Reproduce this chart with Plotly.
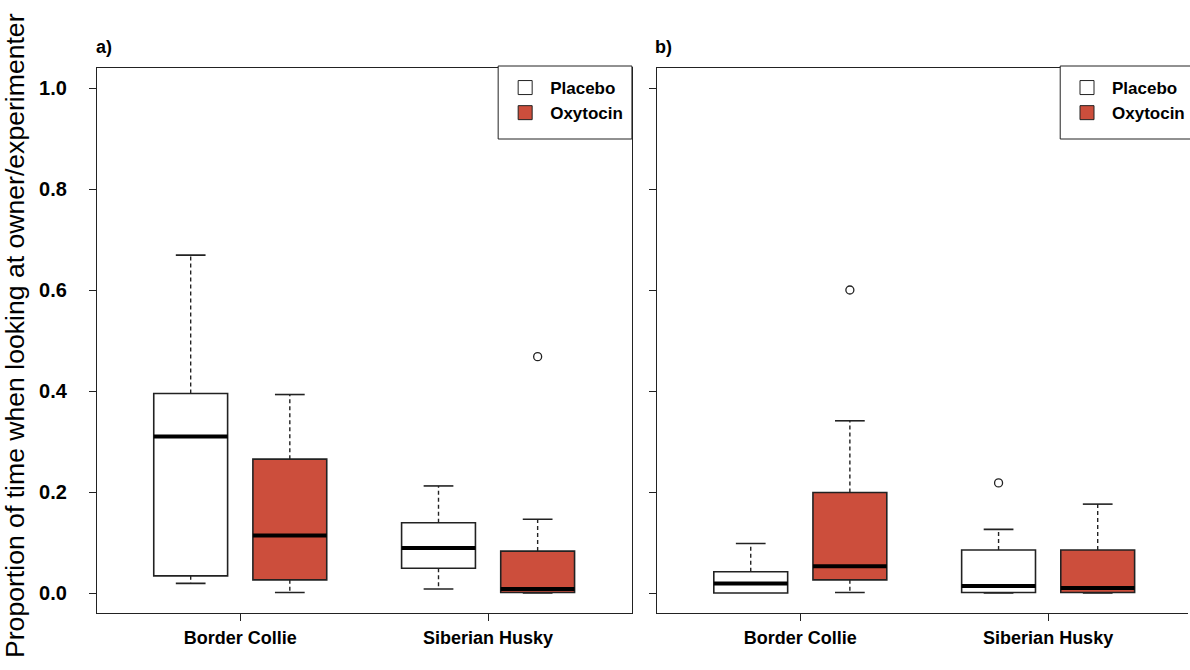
import plotly.graph_objects as go

# ---------------- data ----------------
groups = ["Border Collie", "Siberian Husky"]
treatments = ["Placebo", "Oxytocin"]
box_pos = [1.0, 2.0, 3.5, 4.5]          # BC-Placebo, BC-Oxytocin, SH-Placebo, SH-Oxytocin
group_pos = [1.5, 4.0]
y_ticks = [0.0, 0.2, 0.4, 0.6, 0.8, 1.0]
y_ticktext = ["0.0", "0.2", "0.4", "0.6", "0.8", "1.0"]

# panel a)
a_lower = [0.019, 0.001, 0.008, 0.000]
a_q1 = [0.034, 0.026, 0.049, 0.001]
a_median = [0.310, 0.114, 0.089, 0.008]
a_q3 = [0.395, 0.265, 0.139, 0.083]
a_upper = [0.669, 0.393, 0.212, 0.146]
a_outliers = [[], [], [], [0.468]]

# panel b)
b_lower = [0.000, 0.001, 0.000, 0.000]
b_q1 = [0.000, 0.026, 0.001, 0.001]
b_median = [0.019, 0.053, 0.014, 0.010]
b_q3 = [0.042, 0.199, 0.085, 0.085]
b_upper = [0.098, 0.341, 0.126, 0.176]
b_outliers = [[], [0.600], [0.218], []]

fill_colors = ["#ffffff", "#cc4e3c", "#ffffff", "#cc4e3c"]
treat_colors = {"Placebo": "#ffffff", "Oxytocin": "#cc4e3c"}

# ---------------- geometry ----------------
W, H = 1190, 670
FONT = "Liberation Sans, Arial, sans-serif"
LINE = "#222222"
BOX_W = 0.745
CAP_W = 0.30
PX_PER_UNIT = 99.3
X0 = 1 - 94 / PX_PER_UNIT
xa_dom = [97 / W, 633 / W]
xb_dom = [658 / W, 1.0]
xa_range = [X0, X0 + 536 / PX_PER_UNIT]
xb_range = [X0, X0 + 532 / PX_PER_UNIT]
y_dom = [1 - 613.2 / H, 1 - 67.8 / H]
y_range = [-0.04, 1.04]

fig = go.Figure()


def add_panel(xref, yref, lower, q1, med, q3, upper, outl):
    for i, p in enumerate(box_pos):
        fig.add_trace(go.Box(
            x=[p], q1=[q1[i]], median=[med[i]], q3=[q3[i]],
            lowerfence=[q1[i]], upperfence=[q3[i]],
            width=BOX_W, whiskerwidth=0, fillcolor=fill_colors[i],
            line=dict(color=LINE, width=1.6), boxpoints=False,
            xaxis=xref, yaxis=yref, showlegend=False, hoverinfo="skip"))
    for i, p in enumerate(box_pos):
        # dashed whiskers
        for a, b in ((q3[i], upper[i]), (q1[i], lower[i])):
            if abs(b - a) > 1e-9:
                fig.add_trace(go.Scatter(
                    x=[p, p], y=[a, b], mode="lines",
                    line=dict(color=LINE, width=1.4, dash="4px,3px"),
                    xaxis=xref, yaxis=yref, showlegend=False, hoverinfo="skip"))
        # staples
        for v, ref in ((upper[i], q3[i]), (lower[i], q1[i])):
            if abs(v - ref) > 1e-9:
                fig.add_trace(go.Scatter(
                    x=[p - CAP_W / 2, p + CAP_W / 2], y=[v, v], mode="lines",
                    line=dict(color=LINE, width=1.6),
                    xaxis=xref, yaxis=yref, showlegend=False, hoverinfo="skip"))
        # thick median
        fig.add_trace(go.Scatter(
            x=[p - BOX_W / 2, p + BOX_W / 2], y=[med[i], med[i]], mode="lines",
            line=dict(color="#000000", width=4),
            xaxis=xref, yaxis=yref, showlegend=False, hoverinfo="skip"))
        if outl[i]:
            fig.add_trace(go.Scatter(
                x=[p] * len(outl[i]), y=outl[i], mode="markers",
                marker=dict(symbol="circle-open", size=8, color=LINE,
                            line=dict(width=1.3, color=LINE)),
                xaxis=xref, yaxis=yref, showlegend=False, hoverinfo="skip"))


add_panel("x", "y", a_lower, a_q1, a_median, a_q3, a_upper, a_outliers)
add_panel("x2", "y2", b_lower, b_q1, b_median, b_q3, b_upper, b_outliers)

# legend entries
for lg, xr, yr in (("legend", "x", "y"), ("legend2", "x2", "y2")):
    for t in treatments:
        fig.add_trace(go.Scatter(
            x=[None], y=[None], mode="markers", name=t,
            marker=dict(symbol="square", size=14, color=treat_colors[t],
                        line=dict(color=LINE, width=1)),
            xaxis=xr, yaxis=yr, legend=lg, showlegend=True))

tickfont = dict(family=FONT, size=20, color="#000000", weight="bold")
common_x = dict(tickmode="array", tickvals=group_pos, ticktext=groups,
                ticks="outside", ticklen=7, tickwidth=1, tickcolor=LINE,
                tickfont=dict(family=FONT, size=18, color="#000000", weight="bold"),
                showline=True, linecolor=LINE, linewidth=1, mirror=True,
                showgrid=False, zeroline=False, ticklabelstandoff=1)
common_y = dict(range=y_range, domain=y_dom, tickmode="array", tickvals=y_ticks,
                ticktext=y_ticktext, ticks="outside", ticklen=7, tickwidth=1,
                tickcolor=LINE, tickfont=tickfont, showline=True, linecolor=LINE,
                linewidth=1, showgrid=False, zeroline=False)

legend_style = dict(font=dict(family=FONT, size=17, color="#000000", weight="bold"),
                    bgcolor="rgba(0,0,0,0)", borderwidth=0,
                    xanchor="left", yanchor="top", tracegroupgap=0,
                    itemsizing="trace", itemwidth=40)

# legend frames (the one of panel b runs past the right edge, as in the original)
legend_frames = [
    dict(type="rect", xref="paper", yref="paper", x0=499 / W, x1=633 / W,
         y0=1 - 139 / H, y1=1 - 66 / H, line=dict(color=LINE, width=1),
         fillcolor="#ffffff", layer="above"),
    dict(type="rect", xref="paper", yref="paper", x0=1062 / W, x1=1196 / W,
         y0=1 - 139 / H, y1=1 - 66 / H, line=dict(color=LINE, width=1),
         fillcolor="#ffffff", layer="above"),
]

fig.update_layout(
    width=W, height=H, autosize=False,
    margin=dict(l=0, r=0, t=0, b=0),
    paper_bgcolor="#ffffff", plot_bgcolor="#ffffff",
    boxmode="overlay", showlegend=True,
    xaxis=dict(domain=xa_dom, range=xa_range, anchor="y", **common_x),
    xaxis2=dict(domain=xb_dom, range=xb_range, anchor="y2", **common_x),
    yaxis=dict(anchor="x", mirror=True, ticklabelstandoff=18, **common_y),
    yaxis2=dict(anchor="x2", mirror=False, showticklabels=False, **common_y),
    legend=dict(x=501 / W, y=1 - 70 / H, **legend_style),
    legend2=dict(x=1064 / W, y=1 - 70 / H, **legend_style),
    shapes=legend_frames,
    annotations=[
        dict(text="a)", xref="paper", yref="paper", x=94 / W, y=1 - 47 / H,
             xanchor="left", yanchor="middle", showarrow=False,
             font=dict(family=FONT, size=18, color="#000000", weight="bold")),
        dict(text="b)", xref="paper", yref="paper", x=654 / W, y=1 - 47 / H,
             xanchor="left", yanchor="middle", showarrow=False,
             font=dict(family=FONT, size=18, color="#000000", weight="bold")),
        dict(text="Proportion of time when looking at owner/experimenter",
             xref="paper", yref="paper", x=15 / W, y=1 - 335 / H,
             xanchor="center", yanchor="middle", textangle=-90, showarrow=False,
             font=dict(family=FONT, size=26.6, color="#000000")),
    ],
)

fig.write_html("out.html")
